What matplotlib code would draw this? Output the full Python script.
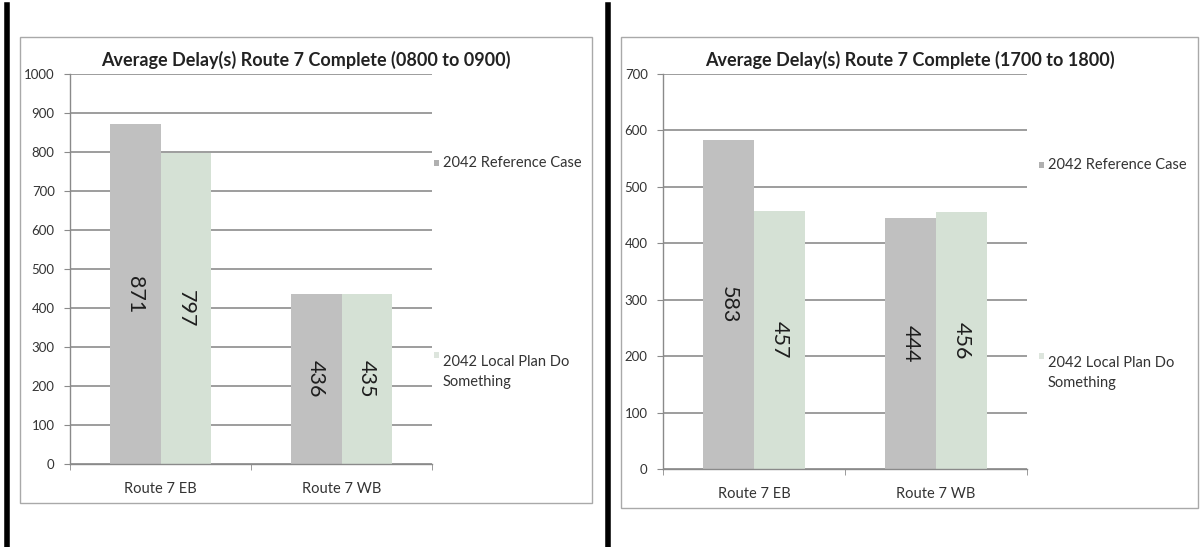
import matplotlib.pyplot as plt
from matplotlib.patches import Rectangle
import matplotlib.lines as mlines

W, H = 1203, 547

categories = ["Route 7 EB", "Route 7 WB"]
series_names = ["2042 Reference Case", "2042 Local Plan Do\nSomething"]
series_colors = ["#c0c0c0", "#d5e1d5"]
key_colors = ["#b0b0b0", "#dde5dd"]

am_title = "Average Delay(s) Route 7 Complete (0800 to 0900)"
am_reference = [871, 436]
am_do_something = [797, 435]
am_ticks = list(range(0, 1001, 100))

pm_title = "Average Delay(s) Route 7 Complete (1700 to 1800)"
pm_reference = [583, 444]
pm_do_something = [457, 456]
pm_ticks = list(range(0, 701, 100))

plt.rcParams['font.family'] = ['Lato', 'DejaVu Sans']

fig = plt.figure(figsize=(W / 100, H / 100), dpi=100)


def px_rect(x0, y0, x1, y1):
    # pixel box (top-left origin) -> figure fraction [l, b, w, h]
    return [x0 / W, (H - y1) / H, (x1 - x0) / W, (y1 - y0) / H]


def vline(x, y0, y1, lw, color):
    fig.add_artist(mlines.Line2D([x / W, x / W], [1 - y0 / H, 1 - y1 / H],
                                 lw=lw, color=color, transform=fig.transFigure))


def chart(box, plot, title, values, ticks, legend_x, legend_y):
    l, b, w, h = px_rect(*box)
    fig.add_artist(Rectangle((l, b), w, h, transform=fig.transFigure,
                             fill=False, ec="#a9a9a9", lw=1.0))
    ax = fig.add_axes(px_rect(*plot))
    width = 0.28
    for i, (vals, color) in enumerate(zip(values, series_colors)):
        xs = [k + (i - 0.5) * width for k in range(len(categories))]
        ax.bar(xs, vals, width=width, color=color, zorder=2)
        for x, v in zip(xs, vals):
            ax.text(x, v / 2, str(v), rotation=270, ha="center", va="center",
                    fontsize=15.5, color="#1e1e1e", zorder=3)
    ax.set_xlim(-0.5, len(categories) - 0.5)
    ax.set_ylim(ticks[0], ticks[-1])
    ax.set_yticks(ticks)
    ax.set_xticks(range(len(categories)))
    ax.set_xticklabels(categories)
    ax.set_xticks([-0.5, 0.5, 1.5], minor=True)
    ax.tick_params(axis="x", which="major", length=0, pad=13,
                   labelsize=10.5, labelcolor="#333333")
    ax.tick_params(axis="x", which="minor", length=4, color="#8a8a8a")
    ax.tick_params(axis="y", length=4, color="#8a8a8a", pad=7,
                   labelsize=9.5, labelcolor="#333333")
    ax.grid(axis="y", color="#8c8c8c", lw=1.2, zorder=1)
    for side in ["top", "right"]:
        ax.spines[side].set_visible(False)
    for side in ["left", "bottom"]:
        ax.spines[side].set_color("#8a8a8a")
        ax.spines[side].set_linewidth(1.0)
    cx = (box[0] + box[2]) / 2
    fig.text(cx / W, 1 - 60 / H, title, ha="center", va="center",
             fontsize=13, fontweight="bold", color="#222222")
    for name, color, ly in zip(series_names, key_colors, legend_y):
        fig.add_artist(Rectangle(((legend_x - 9) / W, 1 - (ly + 3) / H), 5 / W, 6 / H,
                                 transform=fig.transFigure, color=color, lw=0))
        fig.text(legend_x / W, 1 - ly / H, name, ha="left",
                 va="top" if "\n" in name else "center",
                 fontsize=10.5, color="#333333", linespacing=1.55)
    return ax


chart((20, 37, 592, 503), (70, 74, 432, 464), am_title,
      [am_reference, am_do_something], am_ticks, 443, [163, 355])
chart((621, 37, 1198, 508), (663, 74, 1027, 469), pm_title,
      [pm_reference, pm_do_something], pm_ticks, 1048, [165, 356])

vline(6.5, 5, H, 4, "black")
vline(607.5, 5, H, 4, "black")

fig.savefig("out.png", dpi=100)
